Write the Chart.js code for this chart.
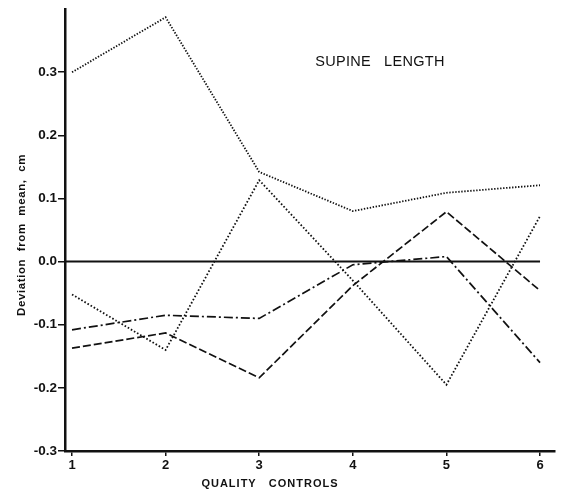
<!DOCTYPE html>
<html>
<head>
<meta charset="utf-8">
<script src="https://cdn.jsdelivr.net/npm/chart.js@4/dist/chart.umd.min.js"></script>
<style>
	html, body { margin: 0; padding: 0; background: #fff; }
	.wrap { width: 562px; height: 495px; }
</style>
</head>
<body>
<div class="wrap"><canvas class="supine-length"></canvas></div>
<script>
// quality controls on the x axis
const controls = [1, 2, 3, 4, 5, 6];
const yTicks = [-0.3, -0.2, -0.1, 0, 0.1, 0.2, 0.3];

// deviation from mean (cm) per observer
const fineDotted = [0.3, 0.387, 0.142, 0.08, 0.109, 0.121];
const dotted = [-0.052, -0.14, 0.129, -0.03, -0.195, 0.072];
const dashed = [-0.137, -0.113, -0.184, -0.038, 0.079, -0.046];
const dashDot = [-0.108, -0.085, -0.09, -0.005, 0.008, -0.16];
const zeroLine = [0, 0];

const toPoints = function (values) {
	return values.map((v, i) => ({ x: controls[i], y: v }));
};

// chart label, axis titles drawn by hand so they sit where the original has them
const textPlugin = {
	id: 'supineText',
	afterDraw(chart) {
		const ctx = chart.ctx;
		ctx.save();
		ctx.fillStyle = '#111';
		ctx.textAlign = 'center';
		ctx.textBaseline = 'middle';

		ctx.font = '14.5px "Liberation Sans", Arial, sans-serif';
		ctx.letterSpacing = '0.3px';
		ctx.fillText('SUPINE   LENGTH', 380, 62);

		ctx.font = 'bold 11px "Liberation Sans", Arial, sans-serif';
		ctx.letterSpacing = '1px';
		ctx.fillText('QUALITY   CONTROLS', 270, 484);

		ctx.translate(22, 235);
		ctx.rotate(-Math.PI / 2);
		ctx.font = 'bold 11.5px "Liberation Sans", Arial, sans-serif';
		ctx.letterSpacing = '0.6px';
		ctx.fillText('Deviation  from  mean,  cm', 0, 0);
		ctx.restore();
	},
};

const createChart = function () {
	const ink = '#111';
	const data = {
		datasets: [
			{
				label: 'zero',
				data: [{ x: 0.925, y: zeroLine[0] }, { x: 6, y: zeroLine[1] }],
				borderColor: ink,
				borderWidth: 2,
				pointRadius: 0,
			},
			{
				label: 'A',
				data: toPoints(fineDotted),
				borderColor: ink,
				borderWidth: 1.8,
				borderDash: [1.4, 1.6],
				pointRadius: 0,
			},
			{
				label: 'B',
				data: toPoints(dotted),
				borderColor: ink,
				borderWidth: 1.8,
				borderDash: [1.6, 2],
				pointRadius: 0,
			},
			{
				label: 'C',
				data: toPoints(dashed),
				borderColor: ink,
				borderWidth: 1.7,
				borderDash: [8, 3],
				pointRadius: 0,
			},
			{
				label: 'D',
				data: toPoints(dashDot),
				borderColor: ink,
				borderWidth: 1.7,
				borderDash: [9, 3, 2, 3],
				pointRadius: 0,
			},
		],
	};

	const config = {
		type: 'line',
		data: data,
		options: {
			responsive: false,
			animation: false,
			layout: { padding: { top: 5, right: 7, left: 0, bottom: 0 } },
			plugins: {
				legend: { display: false },
				tooltip: { enabled: false },
			},
			scales: {
				x: {
					type: 'linear',
					min: 0.925,
					max: 6.16,
					afterBuildTicks: (s) => { s.ticks = controls.map((v) => ({ value: v })); },
					afterFit: (s) => { s.height = 44; },
					border: { display: true, color: ink, width: 2.5 },
					grid: { display: true, drawOnChartArea: false, color: ink, tickLength: 5, lineWidth: 1.5 },
					ticks: {
						color: ink,
						padding: 2,
						font: { family: '"Liberation Sans", Arial, sans-serif', size: 13, weight: 'bold' },
						callback: (v) => String(v),
					},
				},
				y: {
					min: -0.3,
					max: 0.4,
					afterBuildTicks: (s) => { s.ticks = yTicks.map((v) => ({ value: v })); },
					afterFit: (s) => { s.width = 65; },
					border: { display: true, color: ink, width: 2.5 },
					grid: { display: true, drawOnChartArea: false, color: ink, tickLength: 7, lineWidth: 1.5 },
					ticks: {
						color: ink,
						padding: 1,
						font: { family: '"Liberation Sans", Arial, sans-serif', size: 13.5, weight: 'bold' },
						callback: (v) => (v === 0 ? '0.0' : v.toFixed(1)),
					},
				},
			},
		},
		plugins: [textPlugin],
	};

	const canvas = document.querySelector('.supine-length');
	canvas.width = 562;
	canvas.height = 495;
	const myChart = new Chart(canvas, config);
};

const init = function () {
	createChart();
};
document.addEventListener('DOMContentLoaded', init);
</script>
</body>
</html>
